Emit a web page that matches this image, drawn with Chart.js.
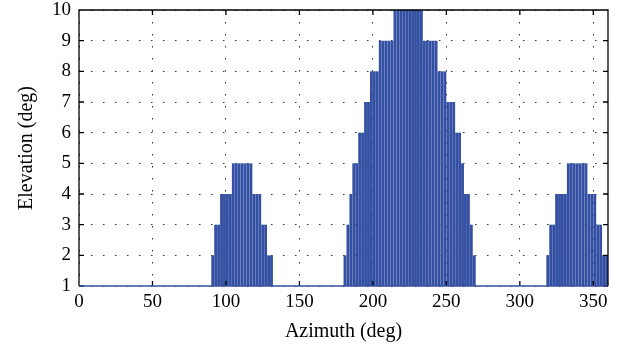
<!DOCTYPE html>
<html>
<head>
<meta charset="utf-8">
<script src="https://cdn.jsdelivr.net/npm/chart.js@4"></script>
<style>
  html, body { margin: 0; padding: 0; background: #fff; }
  #wrap { width: 623px; height: 351px; }
</style>
</head>
<body>
<div id="wrap"><canvas id="elevationChart"></canvas></div>
<script>
// Bar centres (deg) and elevation mask (deg) in 2-degree bins
const azimuth = [
  91, 93, 95, 97, 99, 101, 103, 105, 107, 109, 111, 113, 115, 117, 119, 121, 123, 125, 127, 129, 131,
  181, 183, 185, 187, 189, 191, 193, 195, 197, 199, 201, 203, 205, 207, 209, 211, 213, 215, 217, 219,
  221, 223, 225, 227, 229, 231, 233, 235, 237, 239, 241, 243, 245, 247, 249, 251, 253, 255, 257, 259,
  261, 263, 265, 267, 269,
  319, 321, 323, 325, 327, 329, 331, 333, 335, 337, 339, 341, 343, 345, 347, 349, 351, 353, 355, 357, 359
];
const elevation = [
  2, 3, 3, 4, 4, 4, 4, 5, 5, 5, 5, 5, 5, 5, 4, 4, 4, 3, 3, 2, 2,
  2, 3, 4, 5, 5, 6, 6, 7, 7, 8, 8, 8, 9, 9, 9, 9, 9, 10, 10, 10,
  10, 10, 10, 10, 10, 10, 10, 9, 9, 9, 9, 9, 8, 8, 8, 7, 7, 7, 6, 6,
  5, 4, 4, 3, 2,
  2, 3, 3, 4, 4, 4, 4, 5, 5, 5, 5, 5, 5, 5, 4, 4, 4, 3, 3, 2, 2
];
const xTicks = [0, 50, 100, 150, 200, 250, 300, 350];
const yTicks = [1, 2, 3, 4, 5, 6, 7, 8, 9, 10];

const barColor = "#3450a2";
const serif = "'Liberation Serif', 'DejaVu Serif', serif";

// box with inward ticks, MATLAB style
const framePlugin = {
  id: "frame",
  afterDatasetsDraw(chart) {
    const { ctx, chartArea: a, scales: { x, y } } = chart;
    ctx.save();
    ctx.strokeStyle = "#000";
    ctx.lineWidth = 1.3;
    ctx.beginPath();
    ctx.moveTo(a.left, a.bottom);
    ctx.lineTo(a.left, a.top);
    ctx.lineTo(a.right, a.top);
    ctx.lineTo(a.right, a.bottom);
    x.ticks.forEach(t => {
      const px = x.getPixelForValue(t.value);
      ctx.moveTo(px, a.bottom); ctx.lineTo(px, a.bottom - 5);
      ctx.moveTo(px, a.top); ctx.lineTo(px, a.top + 5);
    });
    y.ticks.forEach(t => {
      const py = y.getPixelForValue(t.value);
      ctx.moveTo(a.left, py); ctx.lineTo(a.left + 5, py);
      ctx.moveTo(a.right, py); ctx.lineTo(a.right - 5, py);
    });
    ctx.stroke();
    // bar baseline
    ctx.strokeStyle = barColor;
    ctx.lineWidth = 1.5;
    ctx.beginPath();
    ctx.moveTo(a.left, a.bottom);
    ctx.lineTo(a.right, a.bottom);
    ctx.stroke();
    ctx.restore();
  }
};

function generateChart() {
  const ctx = document.getElementById("elevationChart").getContext("2d");

  new Chart(ctx, {
    type: "bar",
    data: {
      datasets: [{
        data: azimuth.map((az, i) => ({ x: az, y: elevation[i] })),
        backgroundColor: barColor,
        borderWidth: 0,
        barPercentage: 0.97,
        categoryPercentage: 1
      }]
    },
    options: {
      responsive: true,
      maintainAspectRatio: false,
      animation: false,
      events: [],
      layout: { padding: { top: 10, right: 15, bottom: 0, left: 0 } },
      plugins: { legend: { display: false }, tooltip: { enabled: false } },
      scales: {
        x: {
          type: "linear",
          min: 0,
          max: 360,
          offset: false,
          afterBuildTicks: s => { s.ticks = xTicks.map(v => ({ value: v })); },
          afterFit: s => { s.height = 65; s.paddingLeft = 0; s.paddingRight = 0; },
          grid: { offset: false, color: "#333", lineWidth: 1, drawTicks: false },
          border: { display: false, dash: [1.5, 10.5] },
          ticks: { padding: 5, color: "#000", font: { family: serif, size: 19 } },
          title: { display: true, text: "Azimuth (deg)", color: "#000", padding: { top: 0, bottom: 7 }, font: { family: serif, size: 20 } }
        },
        y: {
          min: 1,
          max: 10,
          afterBuildTicks: s => { s.ticks = yTicks.map(v => ({ value: v })); },
          afterFit: s => { s.width = 79; s.paddingTop = 0; s.paddingBottom = 0; },
          grid: { color: "#333", lineWidth: 1, drawTicks: false },
          border: { display: false, dash: [1.5, 10.5] },
          ticks: { padding: 8, color: "#000", font: { family: serif, size: 19 } },
          title: { display: true, text: "Elevation (deg)", color: "#000", padding: { top: 15, bottom: 0 }, font: { family: serif, size: 20 } }
        }
      }
    },
    plugins: [framePlugin]
  });
}

document.addEventListener("DOMContentLoaded", generateChart);
</script>
</body>
</html>
